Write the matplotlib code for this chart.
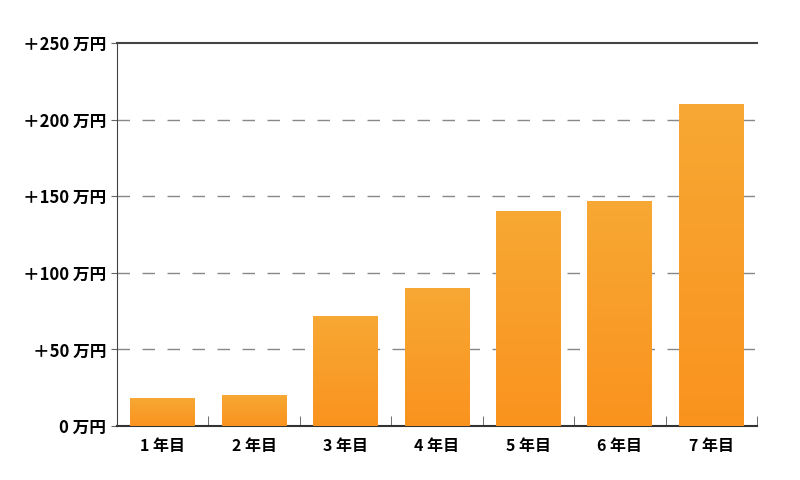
import numpy as np
import matplotlib
matplotlib.use("Agg")
import matplotlib.pyplot as plt
from matplotlib.colors import LinearSegmentedColormap

plt.rcParams["font.family"] = ["Noto Sans CJK JP", "DejaVu Sans"]

years = ["1 年目", "2 年目", "3 年目", "4 年目", "5 年目", "6 年目", "7 年目"]
values = [18, 20, 72, 90, 140, 147, 210]
yticks = [0, 50, 100, 150, 200, 250]
ylabels = ["0 万円", "＋50 万円", "＋100 万円", "＋150 万円", "＋200 万円", "＋250 万円"]

fig = plt.figure(figsize=(8, 4.8), dpi=100)
ax = fig.add_axes([0.14625, 0.1125, 0.8, 0.798])

x = np.arange(len(values))
bars = ax.bar(x, values, width=0.71, color="#F8A02C", zorder=2)

# vertical gradient on each bar
cmap = LinearSegmentedColormap.from_list("grad", ["#FA931E", "#F7A834"])
grad = np.linspace(0, 1, 256).reshape(-1, 1)
for b in bars:
    x0, y0 = b.get_x(), b.get_y()
    im = ax.imshow(grad, cmap=cmap, aspect="auto", origin="lower",
                   extent=[x0, x0 + b.get_width(), y0, y0 + b.get_height()], zorder=3)
    im.set_clip_path(b)

ax.set_xlim(-0.5, len(values) - 0.5)
ax.set_ylim(0, 250)

for v in yticks[1:-1]:
    ax.axhline(v, color="#888888", lw=1, ls=(0, (9, 9)), zorder=1)

ax.spines["right"].set_visible(False)
ax.spines["top"].set_color("#444444")
ax.spines["top"].set_linewidth(1.5)
ax.spines["left"].set_color("#444444")
ax.spines["bottom"].set_color("#333333")
ax.spines["bottom"].set_linewidth(1.5)

ax.set_yticks(yticks)
ax.set_yticklabels(ylabels, fontsize=12, fontweight="bold")
ax.tick_params(axis="y", length=4, color="#666666", pad=4)

ax.set_xticks(x)
ax.set_xticklabels(years, fontsize=11.5, fontweight="bold")
ax.tick_params(axis="x", length=0, pad=9)
ax.set_xticks(np.arange(len(values)) + 0.5, minor=True)
ax.tick_params(axis="x", which="minor", direction="in", length=7, color="#555555")

fig.savefig("out.png", dpi=100)
